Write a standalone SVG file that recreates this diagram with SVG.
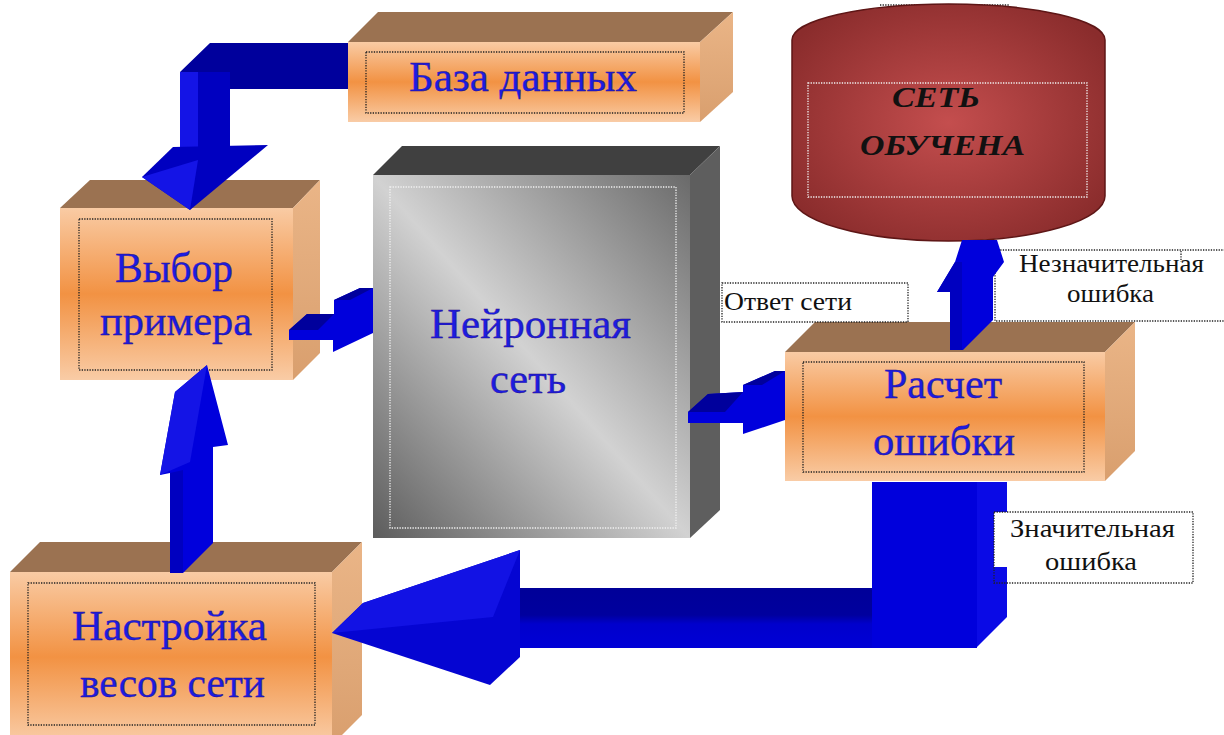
<svg xmlns="http://www.w3.org/2000/svg" width="1224" height="735" viewBox="0 0 1224 735">
<defs>
<linearGradient id="gFront" x1="0" y1="0" x2="0" y2="1">
<stop offset="0" stop-color="#f9cba4"/>
<stop offset="0.5" stop-color="#f29243"/>
<stop offset="1" stop-color="#f9cca6"/>
</linearGradient>
<linearGradient id="gSide" x1="0" y1="0" x2="0" y2="1">
<stop offset="0" stop-color="#eab587"/>
<stop offset="1" stop-color="#d99f6e"/>
</linearGradient>
<linearGradient id="gGray" x1="1" y1="0" x2="0" y2="1">
<stop offset="0" stop-color="#6a6a6a"/>
<stop offset="0.5" stop-color="#d2d2d2"/>
<stop offset="1" stop-color="#5c5c5c"/>
</linearGradient>
<radialGradient id="gCyl" cx="0.5" cy="0.5" r="0.6">
<stop offset="0" stop-color="#c44e4e"/>
<stop offset="1" stop-color="#8a2c2c"/>
</radialGradient>
<linearGradient id="gHbar" x1="0" y1="0" x2="0" y2="1">
<stop offset="0" stop-color="#000098"/>
<stop offset="0.45" stop-color="#00009e"/>
<stop offset="0.6" stop-color="#0000cc"/>
<stop offset="1" stop-color="#0000d6"/>
</linearGradient>
<style>
.top{fill:#9b7251}
.front{fill:url(#gFront)}
.side{fill:url(#gSide)}
.dot{fill:none;stroke:#222;stroke-width:1.3;stroke-dasharray:1.3 1.3}
.dotw{fill:none;stroke:#f2f2f2;stroke-width:1.3;stroke-dasharray:1.3 1.3}
.lbl{font-family:"Liberation Serif","Times New Roman",serif;font-size:42px;fill:#1c1ce0;stroke:#2a0f80;stroke-width:0.4}
.sm{font-family:"Liberation Serif","Times New Roman",serif;font-size:26px;fill:#111}
.cyl{font-family:"Liberation Serif","Times New Roman",serif;font-size:30px;font-weight:bold;font-style:italic;fill:#111}
.bb{fill:#0000dc}
.bd{fill:#00009c}
.bm{fill:#0000c0}
.bl{fill:#1414e6}
</style>
</defs>
<rect width="1224" height="735" fill="#ffffff"/>

<g id="baza">
<polygon class="top" points="348,42 378,12 733,12 700,42"/>
<polygon class="side" points="700,42 733,12 733,92 700,122"/>
<rect class="front" x="348" y="42" width="352" height="80"/>
<rect class="dot" x="366" y="52" width="318" height="61"/>
<text class="lbl" x="409" y="91" textLength="228" lengthAdjust="spacingAndGlyphs">База данных</text>
</g>

<g id="vybor">
<polygon class="top" points="60,208 90,180 320,180 293,208"/>
<polygon class="side" points="293,208 320,180 320,353 293,380"/>
<rect class="front" x="60" y="208" width="233" height="172"/>
<rect class="dot" x="79" y="219" width="193" height="151"/>
<text class="lbl" x="115" y="282" textLength="118" lengthAdjust="spacingAndGlyphs">Выбор</text>
<text class="lbl" x="100" y="335" textLength="152" lengthAdjust="spacingAndGlyphs">примера</text>
</g>

<g id="neuro">
<polygon fill="#404040" points="373,175 402,146 720,146 690,175"/>
<polygon fill="#5e5e5e" points="690,175 720,146 720,510 690,538"/>
<rect fill="url(#gGray)" x="373" y="175" width="317" height="363"/>
<rect class="dotw" x="390" y="187" width="286" height="341"/>
<text class="lbl" x="430" y="338" textLength="201" lengthAdjust="spacingAndGlyphs">Нейронная</text>
<text class="lbl" x="490" y="393" textLength="76" lengthAdjust="spacingAndGlyphs">сеть</text>
</g>

<g id="raschet">
<polygon class="top" points="785,352 815,322 1135,322 1105,352"/>
<polygon class="side" points="1105,352 1135,322 1135,451 1105,481"/>
<rect class="front" x="785" y="352" width="320" height="129"/>
<rect class="dot" x="803" y="362" width="281" height="110"/>
<text class="lbl" x="884" y="398" textLength="118" lengthAdjust="spacingAndGlyphs">Расчет</text>
<text class="lbl" x="873" y="455" textLength="142" lengthAdjust="spacingAndGlyphs">ошибки</text>
</g>

<g id="nastroika">
<polygon class="top" points="10,572 40,542 362,542 332,572"/>
<polygon class="side" points="332,572 362,542 362,715 332,745"/>
<rect class="front" x="10" y="572" width="322" height="170"/>
<rect class="dot" x="28" y="583" width="287" height="142"/>
<text class="lbl" x="72" y="640" textLength="195" lengthAdjust="spacingAndGlyphs">Настройка</text>
<text class="lbl" x="80" y="697" textLength="185" lengthAdjust="spacingAndGlyphs">весов сети</text>
</g>

<g id="obuchena">
<line class="dot" x1="880" y1="5" x2="1010" y2="5"/>
<path d="M792,40 A156.5,36 0 0 1 1105,40 L1105,196 A156.5,45 0 0 1 792,196 Z" fill="url(#gCyl)" stroke="#5e1616" stroke-width="1.5"/>
<rect class="dotw" x="808" y="83" width="279" height="114"/>
<text class="cyl" x="892" y="107" textLength="88" lengthAdjust="spacingAndGlyphs">СЕТЬ</text>
<text class="cyl" x="860" y="155" textLength="165" lengthAdjust="spacingAndGlyphs">ОБУЧЕНА</text>
</g>

<g id="label-otvet">
<rect class="dot" x="722" y="283" width="186" height="39"/>
<text class="sm" x="724" y="310" textLength="128" lengthAdjust="spacingAndGlyphs">Ответ сети</text>
</g>

<g id="label-neznach">
<rect class="dot" x="995" y="250" width="240" height="71"/>
<line class="dot" x1="1181" y1="251" x2="1181" y2="262"/>
<text class="sm" x="1019" y="272" textLength="185" lengthAdjust="spacingAndGlyphs">Незначительная</text>
<text class="sm" x="1067" y="302" textLength="87" lengthAdjust="spacingAndGlyphs">ошибка</text>
</g>

<g id="connectors">
<g id="arrow-baza-vybor">
<polygon class="bd" points="210,43 348,43 348,89 230,89 230,72 180,72"/>
<rect class="bm" x="180" y="72" width="50" height="80"/>
<rect class="bl" x="180" y="72" width="18" height="80"/>
<polygon class="bm" points="142,177 173,147 268,145 190,210"/>
<polygon class="bl" points="142,177 198,160 190,210"/>
</g>
<g id="arrow-vybor-neuro">
<polygon class="bb" points="289,330 307,314 334,314 334,300 360,288 373,288 373,333 333,352 333,340 289,340"/>
<polygon class="bd" points="289,330 307,314 334,314 318,330"/>
<polygon class="bd" points="334,300 360,288 373,288 350,300"/>
</g>
<g id="arrow-neuro-raschet">
<polygon class="bb" points="688,412 708,394 743,392 743,385 775,371 785,371 785,420 743,434 743,423 688,423"/>
<polygon class="bd" points="688,412 708,394 743,392 725,412"/>
<polygon class="bd" points="743,385 775,371 785,371 762,385"/>
</g>
<g id="arrow-raschet-obuchena">
<polygon class="bb" points="950,350 950,292 937,292 955,262 962,240 997,240 1004,262 993,277 993,320 963,350"/>
<polygon class="bm" points="950,350 950,292 937,292 955,262 962,262 962,350"/>
</g>
<g id="arrow-nastroika-vybor">
<polygon class="bb" points="170,573 183,573 213,543 213,447 228,445 207,365 175,392 160,475 170,473"/>
<polygon class="bm" points="170,573 183,573 183,470 170,473"/>
<polygon class="bl" points="207,365 175,392 160,475 190,462"/>
</g>
<g id="arrow-raschet-nastroika">
<rect x="520" y="588" width="360" height="60" fill="url(#gHbar)"/>
<rect class="bb" x="872" y="482" width="105" height="166"/>
<polygon fill="#0a0ae6" points="977,482 1007,482 1007,617 977,647"/>
<polygon fill="#0505d2" points="332,633 363,603 520,550 520,657 490,685"/>
<polygon fill="#1212e4" points="332,633 363,603 520,550 493,617"/>
</g>
</g>

<g id="label-znach">
<rect fill="#ffffff" x="994" y="512" width="199" height="55"/>
<rect class="dot" x="994" y="512" width="199" height="71"/>
<text class="sm" x="1010" y="537" textLength="165" lengthAdjust="spacingAndGlyphs">Значительная</text>
<text class="sm" x="1045" y="570" textLength="92" lengthAdjust="spacingAndGlyphs">ошибка</text>
</g>
</svg>
